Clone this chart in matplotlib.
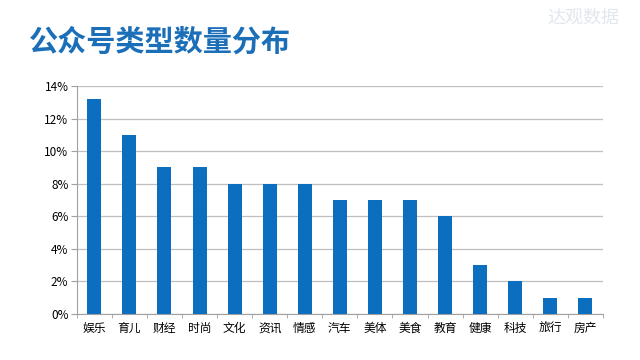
import matplotlib
matplotlib.use('Agg')
import matplotlib.pyplot as plt
from matplotlib.ticker import FuncFormatter

plt.rcParams['font.family'] = ['Noto Sans CJK SC', 'DejaVu Sans']

categories = ['娱乐', '育儿', '财经', '时尚', '文化', '资讯', '情感', '汽车',
              '美体', '美食', '教育', '健康', '科技', '旅行', '房产']
shares = [13.2, 11, 9, 9, 8, 8, 8, 7, 7, 7, 6, 3, 2, 1, 1]

fig = plt.figure(figsize=(6.4, 3.6), dpi=100)
ax = fig.add_axes([0.120, 0.128, 0.822, 0.633])

x = range(len(categories))
ax.bar(x, shares, width=0.4, color='#0b6ebf', zorder=3)

ax.set_xlim(-0.5, len(categories) - 0.5)
ax.set_ylim(0, 14)
ax.set_yticks(range(0, 15, 2))
ax.yaxis.set_major_formatter(FuncFormatter(lambda v, p: '%d%%' % v))
ax.set_xticks(list(x))
ax.set_xticklabels(categories, fontweight='medium')
ax.set_xticks([i - 0.5 for i in range(len(categories) + 1)], minor=True)
ax.grid(axis='y', color='#bfbfbf', linewidth=0.9, zorder=0)
for s in ['top', 'right']:
    ax.spines[s].set_visible(False)
ax.spines['left'].set_color('#a0a0a0')
ax.spines['bottom'].set_color('#a0a0a0')
ax.tick_params(axis='y', length=4, color='#a0a0a0', labelsize=8.5, pad=2)
ax.tick_params(axis='x', which='major', length=0, labelsize=8.5, pad=6)
ax.tick_params(axis='x', which='minor', length=3, color='#a0a0a0')

fig.text(0.045, 0.885, '公众号类型数量分布', fontsize=21, fontweight='heavy',
         color='#1b6fb8', va='center')
fig.text(0.855, 0.95, '达观数据', fontsize=13, color='#e2e6ee', va='center')

fig.savefig('out.png', dpi=100)
